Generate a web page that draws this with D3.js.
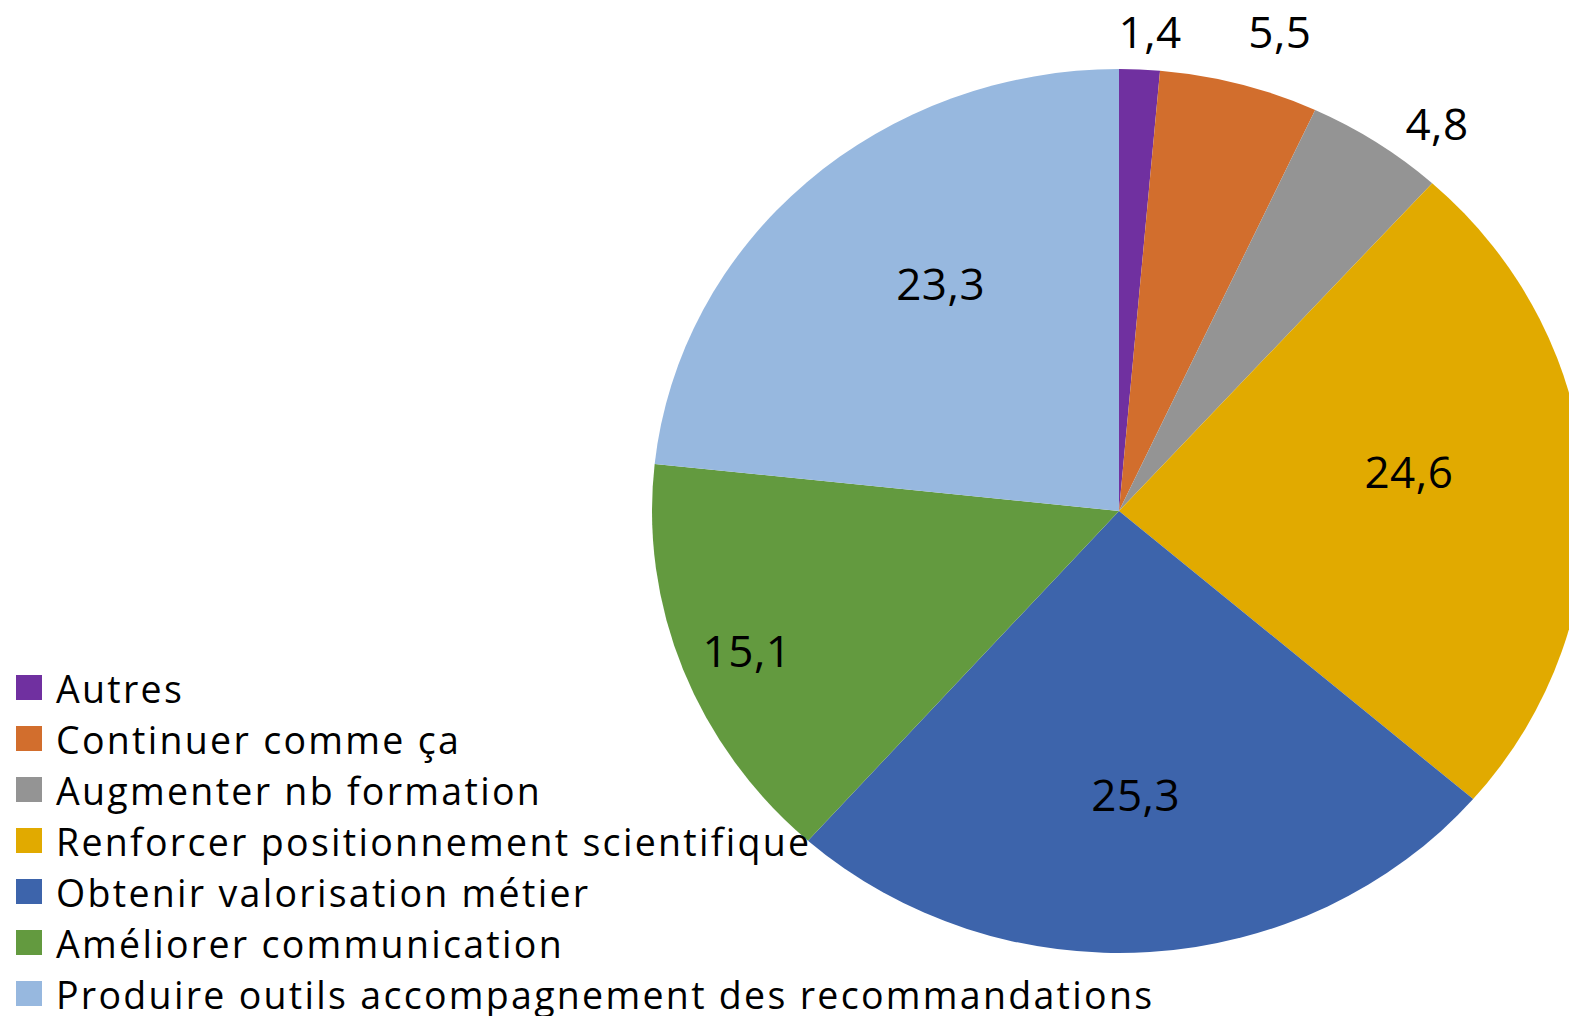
<!DOCTYPE html>
<html><head><meta charset="utf-8">
<script src="https://cdn.jsdelivr.net/npm/d3@7"></script>
<style>html,body{margin:0;padding:0;background:#fff;overflow:hidden}svg{display:block}text{font-variant-ligatures:none}</style>
</head><body>
<script>
const categories = ["Autres","Continuer comme ça","Augmenter nb formation","Renforcer positionnement scientifique","Obtenir valorisation métier","Améliorer communication","Produire outils accompagnement des recommandations"];
const values = [1.4,5.5,4.8,24.6,25.3,15.1,23.3];
const valueLabels = ["1,4","5,5","4,8","24,6","25,3","15,1","23,3"];
const colors = ["#7030A0","#D26E2D","#949494","#E1AA00","#3D64AB","#639A3F","#97B8DF"];
// data label placement: fraction of the radius, and angular nudge from the slice middle (degrees)
const labelRadius = [1.086,1.137,1.109,0.627,0.644,0.857,0.640];
const labelAngleShift = [1.0,2.7,4.4,-4.5,0.6,-0.6,5.3];

const W = 1569, H = 1016;
const cx = 1119, cy = 511, R = 442, stretchX = 467/442;
const font = "'Open Sans', 'Noto Sans', sans-serif";

const svg = d3.select("body").append("svg").attr("width", W).attr("height", H);

const pie = d3.pie().sort(null).value(d => d)(values);
const arc = d3.arc().innerRadius(0).outerRadius(R);

const g = svg.append("g").attr("transform", `translate(${cx},${cy}) scale(${stretchX},1)`);
g.selectAll("path").data(pie).join("path")
  .attr("d", arc)
  .attr("fill", (d,i) => colors[i]);

const labelAngle = (d,i) => (d.startAngle + d.endAngle)/2 + labelAngleShift[i]*Math.PI/180;
const lg = svg.append("g").attr("transform", `translate(${cx},${cy})`);
lg.selectAll("text").data(pie).join("text")
  .attr("x", (d,i) => Math.sin(labelAngle(d,i)) * R * labelRadius[i] * stretchX)
  .attr("y", (d,i) => -Math.cos(labelAngle(d,i)) * R * labelRadius[i])
  .attr("dy", "0.36em")
  .attr("text-anchor", "middle")
  .attr("font-family", font)
  .attr("font-size", 44)
  .attr("letter-spacing", 0.5)
  .attr("fill", "#000")
  .text((d,i) => valueLabels[i]);

const legend = svg.append("g");
const rowH = 51;
const items = legend.selectAll("g").data(categories).join("g")
  .attr("transform", (d,i) => `translate(16,${675 + i*rowH})`);
items.append("rect").attr("width", 26).attr("height", 25)
  .attr("fill", (d,i) => colors[i]);
items.append("text").attr("x", 40).attr("y", 28)
  .attr("font-family", font).attr("font-size", 37.5).attr("letter-spacing", 2.3).attr("fill", "#000")
  .text(d => d);
</script>
</body></html>
